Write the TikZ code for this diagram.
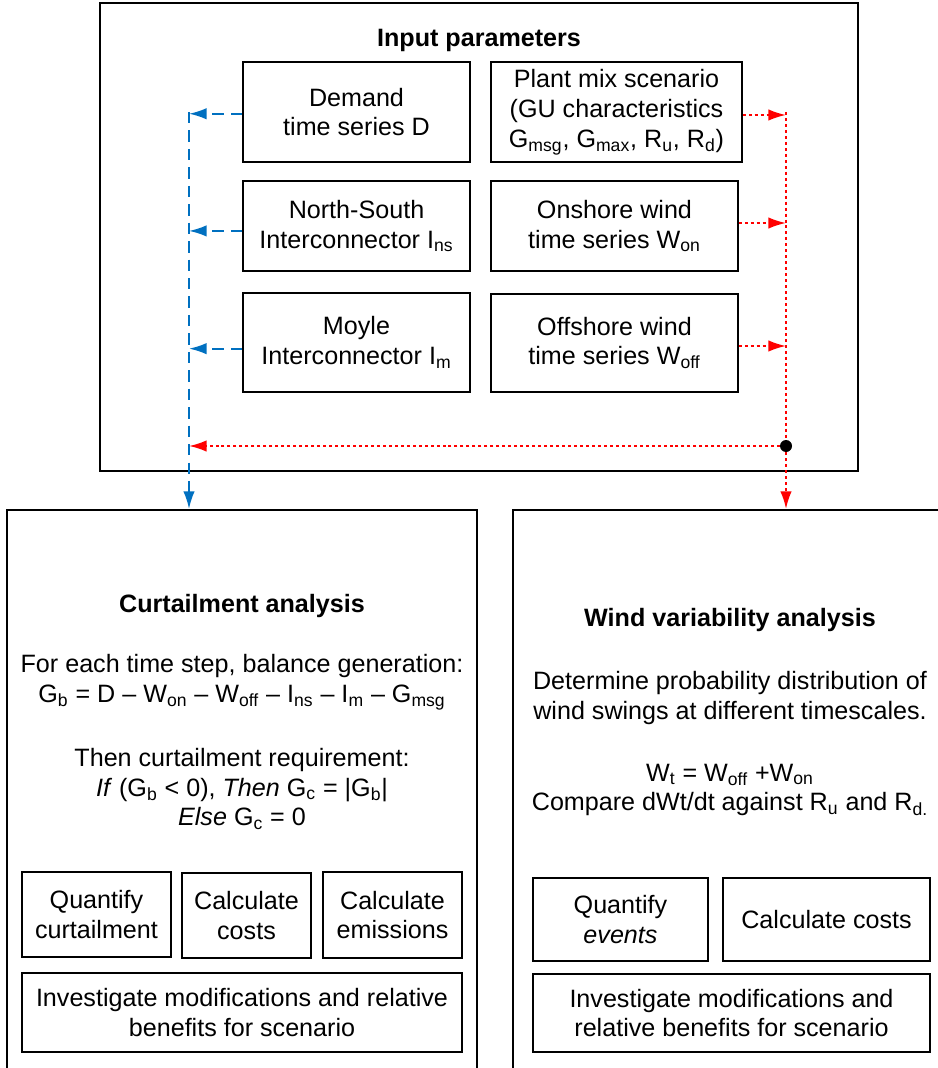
\documentclass[tikz,border=0pt]{standalone}
\usepackage{fontspec}
\setmainfont{Liberation Sans}
\usetikzlibrary{arrows.meta}
\definecolor{flowblue}{RGB}{0,112,192}
\newcommand{\sbs}[1]{\textsubscript{#1}}
\newcommand{\txt}{\fontsize{14.3}{17}\selectfont}
\tikzset{
	box/.style 2 args={draw, line width=0.9pt, minimum width=#1*0.02cm, minimum height=#2*0.02cm, inner sep=0pt, align=center, font=\txt},
	frame/.style 2 args={box={#1}{#2}, line width=1.2pt},
	label/.style={align=center, font=\txt},
	blueflow/.style={flowblue, line width=1.1pt, dash pattern=on 6.5pt off 4pt, -{Latex[length=10pt,width=6.5pt]}},
	redflow/.style={red, line width=1.1pt, dash pattern=on 1.7pt off 1.7pt, -{Latex[length=10pt,width=6.5pt]}}
}
\begin{document}
\begin{tikzpicture}[x=0.02cm,y=-0.02cm]
	\useasboundingbox (0,0) rectangle (937,1068);
	% input parameters
	\node[frame={758}{468}] (inp) at (479,237) {};
	\node[label] (inptitle) at (479,40) {\textbf{Input parameters}};
	\node[box={227}{100}] (dem) at (356.5,112) {Demand\\time series D};
	\node[box={227}{90}] (ns) at (356.5,226) {North-South\\Interconnector I\sbs{ns}};
	\node[box={227}{99}] (moy) at (356.5,342.5) {Moyle\\Interconnector I\sbs{m}};
	\node[box={251}{100}] (plant) at (616.5,112) {Plant mix scenario\\(GU characteristics\\G\sbs{msg}, G\sbs{max}, R\sbs{u}, R\sbs{d})};
	\node[box={247}{90}] (on) at (614.5,226) {Onshore wind\\time series W\sbs{on}};
	\node[box={247}{98}] (off) at (614.5,343) {Offshore wind\\time series W\sbs{off}};
	% analysis frames
	\node[frame={470}{600}] (curt) at (242,810) {};
	\node[frame={434}{600}] (wind) at (730,810) {};
	% curtailment analysis
	\node[label] (curttitle) at (242,606) {\textbf{Curtailment analysis}};
	\node[label] (bal) at (242,682.5) {For each time step, balance generation:\\G\sbs{b} = D -- W\sbs{on} -- W\sbs{off} -- I\sbs{ns} -- I\sbs{m} -- G\sbs{msg}};
	\node[label] (req) at (242,789) {Then curtailment requirement:\\\textit{If} (G\sbs{b} < 0), \textit{Then} G\sbs{c} = |G\sbs{b}|\\\textit{Else} G\sbs{c} = 0};
	\node[box={149}{85}] (qc) at (96.5,914.5) {Quantify\\curtailment};
	\node[box={129}{85}] (cc) at (246.5,915.5) {Calculate\\costs};
	\node[box={139}{86}] (ce) at (392.5,915) {Calculate\\emissions};
	\node[box={440}{79}] (ic) at (242,1012.5) {Investigate modifications and relative\\benefits for scenario};
	% wind variability analysis
	\node[label] (windtitle) at (730,620) {\textbf{Wind variability analysis}};
	\node[label] (prob) at (730,698) {Determine probability distribution of\\wind swings at different timescales.};
	\node[label] (cmp) at (730,790) {W\sbs{t} = W\sbs{off} +W\sbs{on}\\Compare dWt/dt against R\sbs{u} and R\sbs{d.}};
	\node[box={175}{83}] (qe) at (620.5,919.5) {Quantify\\\textit{events}};
	\node[box={207}{83}] (wc) at (826.5,919.5) {Calculate costs};
	\node[box={397}{78}] (iw) at (731.5,1013) {Investigate modifications and\\relative benefits for scenario};
	% connectors
	\coordinate (btop) at (189,112);
	\coordinate (bmid) at (189,446);
	\coordinate (rtop) at (786,112);
	\coordinate (rdot) at (786,446);
	\draw[blueflow] ([yshift=-1pt]dem.west) -- ([yshift=-1pt]dem.west -| btop);
	\draw[blueflow] ([yshift=-2.8pt]ns.west) -- ([yshift=-2.8pt]ns.west -| btop);
	\draw[blueflow] ([yshift=-3.5pt]moy.west) -- ([yshift=-3.5pt]moy.west -| btop);
	\draw[blueflow] (btop) -- (btop |- curt.north);
	\draw[redflow] ([yshift=-1.7pt]plant.east) -- ([yshift=-1.7pt]plant.east -| rtop);
	\draw[redflow] ([yshift=1.7pt]on.east) -- ([yshift=1.7pt]on.east -| rtop);
	\draw[redflow] ([yshift=-1.7pt]off.east) -- ([yshift=-1.7pt]off.east -| rtop);
	\draw[redflow] (rtop) -- (rtop |- wind.north);
	\draw[redflow] (rdot) -- (bmid);
	\fill (rdot) circle (6);
\end{tikzpicture}
\end{document}
